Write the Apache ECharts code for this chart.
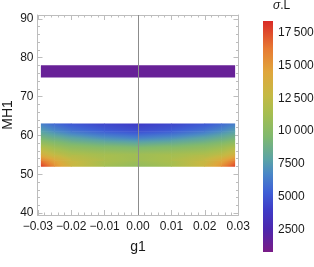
<!DOCTYPE html>
<html>
<head>
<meta charset="utf-8">
<script src="https://cdn.jsdelivr.net/npm/echarts@6/dist/echarts.min.js"></script>
<style>html,body{margin:0;padding:0;background:#fff;}#c{width:314px;height:267px;}</style>
</head>
<body>
<div id="c"></div>
<script>
// ---- data ----
const heatX = [-0.029, -0.025, -0.02, -0.01, 0, 0.01, 0.02, 0.025, 0.029];
const heatY = [52, 53.5, 55, 57, 59, 61, 63];
const heatRow52   = [18000, 15500, 13200, 11200, 10400, 11200, 13200, 15400, 17900];
const heatRow53_5 = [16200, 14500, 12800, 11600, 11000, 11600, 12800, 14300, 16000];
const heatRow55   = [13800, 12600, 11800, 11300, 11100, 11300, 11800, 12400, 13600];
const heatRow57   = [11800, 10900, 10200, 9800, 9500, 9800, 10200, 10800, 11600];
const heatRow59   = [9500, 8900, 8300, 7400, 6900, 7400, 8300, 8800, 9400];
const heatRow61   = [7800, 7000, 6200, 5300, 4700, 5300, 6200, 7000, 7700];
const heatRow63   = [6500, 5600, 5000, 4300, 4000, 4300, 5000, 5600, 6400];
const heatValues = [heatRow52, heatRow53_5, heatRow55, heatRow57, heatRow59, heatRow61, heatRow63];

const bandX = [-0.029, 0, 0.029];
const bandY = [75, 78];
const bandRow75 = [1500, 1500, 1500];
const bandRow78 = [1500, 1500, 1500];
const bandValues = [bandRow75, bandRow78];

const xTickLabels = [-0.03, -0.02, -0.01, 0, 0.01, 0.02, 0.03];
const yTickLabels = [40, 50, 60, 70, 80, 90];
const cbarTickLabels = [2500, 5000, 7500, 10000, 12500, 15000, 17500];
const cbarMin = 760, cbarMax = 18400;

// ---- colour scheme ----
const cmapStops = [
  [0.00, '#7a1c87'], [0.10, '#4c27ae'], [0.18, '#3f3bc6'], [0.26, '#3f60d6'],
  [0.34, '#4a88c6'], [0.40, '#5ba3a6'], [0.50, '#80b96e'], [0.60, '#a6be50'],
  [0.68, '#c5b944'], [0.78, '#e0a63c'], [0.88, '#e77a33'], [1.00, '#d92a27']
];
function hex2rgb(h){return [parseInt(h.substr(1,2),16),parseInt(h.substr(3,2),16),parseInt(h.substr(5,2),16)];}
function cmap(v){
  let t = (v - cbarMin) / (cbarMax - cbarMin);
  t = Math.max(0, Math.min(1, t));
  for (let i = 1; i < cmapStops.length; i++) {
    if (t <= cmapStops[i][0]) {
      const a = cmapStops[i-1], b = cmapStops[i];
      const f = (t - a[0]) / (b[0] - a[0]);
      const ca = hex2rgb(a[1]), cb = hex2rgb(b[1]);
      return 'rgb(' + ca.map((x, k) => Math.round(x + (cb[k] - x) * f)).join(',') + ')';
    }
  }
  return cmapStops[cmapStops.length-1][1];
}

// cells: [x0, x1, y0, y1, vTL, vTR, vBL, vBR]
function buildCells(xs, ys, vals){
  const out = [];
  for (let j = 0; j < ys.length - 1; j++) {
    for (let i = 0; i < xs.length - 1; i++) {
      out.push([xs[i], xs[i+1], ys[j], ys[j+1],
        vals[j+1][i], vals[j+1][i+1], vals[j][i], vals[j][i+1]]);
    }
  }
  return out;
}

function renderCell(params, api){
  const x0 = api.value(0), x1 = api.value(1), y0 = api.value(2), y1 = api.value(3);
  const vTL = api.value(4), vTR = api.value(5), vBL = api.value(6), vBR = api.value(7);
  const pTL = api.coord([x0, y1]), pBR = api.coord([x1, y0]);
  const W = pBR[0] - pTL[0], H = pBR[1] - pTL[1];
  const b = ((vTR - vTL) + (vBR - vBL)) / 2;
  const c = ((vBL - vTL) + (vBR - vTR)) / 2;
  const m = (vTL + vTR + vBL + vBR) / 4;
  const gx = b / W, gy = c / H, g2 = gx*gx + gy*gy;
  let fill;
  if (g2 < 1e-9) { fill = cmap(m); }
  else {
    const half = Math.abs(b)/2 + Math.abs(c)/2;
    const lo = m - half, hi = m + half;
    const cx = pTL[0] + W/2, cy = pTL[1] + H/2;
    const t0 = (lo - m) / g2, t1 = (hi - m) / g2;
    const stops = [];
    const n = 6;
    for (let k = 0; k <= n; k++) stops.push({offset: k/n, color: cmap(lo + (hi - lo) * k / n)});
    fill = {type: 'linear', x: cx + gx*t0, y: cy + gy*t0, x2: cx + gx*t1, y2: cy + gy*t1, global: true, colorStops: stops};
  }
  return {type: 'rect', shape: {x: pTL[0] - 0.3, y: pTL[1] - 0.3, width: W + 0.6, height: H + 0.6}, style: {fill: fill}};
}

function renderBar(params, api){
  const pTL = api.coord([api.value(0), api.value(3)]);
  const pBR = api.coord([api.value(1), api.value(2)]);
  return {type: 'rect', shape: {x: pTL[0], y: pTL[1], width: pBR[0]-pTL[0], height: pBR[1]-pTL[1]},
    style: {fill: {type: 'linear', x: 0, y: 1, x2: 0, y2: 0,
      colorStops: cmapStops.map(s => ({offset: s[0], color: s[1]}))}}};
}

const minorX = [], minorY = [];
for (let k = -15; k <= 15; k++) minorX.push(k * 0.002);
for (let k = 20; k <= 45; k++) minorY.push(k * 2);

const frameColor = '#bdbdbd';
const labelColor = '#1a1a1a';
const font = 'Liberation Sans, Arial, sans-serif';
const fmtX = v => { const r = Math.round(v * 100) / 100; return (r < 0 ? '\u2212' : '') + Math.abs(r).toFixed(2); };
const fmtC = v => v >= 10000 ? Math.floor(v/1000) + '\u2009' + String(v % 1000).padStart(3, '0') : String(v);

function xAx(pos, major, labels){
  return {type: 'value', gridIndex: 0, position: pos, min: -0.0301, max: 0.0301,
    axisLine: {show: major, onZero: false, lineStyle: {color: frameColor, width: 1}},
    axisTick: {show: true, inside: true, length: major ? 5 : 2.5, customValues: major ? xTickLabels : minorX, lineStyle: {color: frameColor}},
    axisLabel: {show: labels, customValues: xTickLabels, formatter: fmtX, color: labelColor, fontSize: 12, fontFamily: font, margin: 6},
    splitLine: {show: false},
    name: labels ? 'g1' : '', nameLocation: 'middle', nameGap: 25, nameMoveOverlap: false,
    nameTextStyle: {fontSize: 14, color: labelColor, fontFamily: font}};
}
function yAx(pos, major, labels){
  return {type: 'value', gridIndex: 0, position: pos, min: 39.5, max: 91,
    axisLine: {show: major, onZero: false, lineStyle: {color: frameColor, width: 1}},
    axisTick: {show: true, inside: true, length: major ? 5 : 2.5, customValues: major ? yTickLabels : minorY, lineStyle: {color: frameColor}},
    axisLabel: {show: labels, customValues: yTickLabels, color: labelColor, fontSize: 12, fontFamily: font, margin: 4},
    splitLine: {show: false},
    name: labels ? 'MH1' : '', nameLocation: 'middle', nameGap: 22, nameMoveOverlap: false,
    nameTextStyle: {fontSize: 14, color: labelColor, fontFamily: font}};
}

const chart = echarts.init(document.getElementById('c'), null, {renderer: 'canvas'});
chart.setOption({
  animation: false,
  backgroundColor: '#ffffff',
  grid: [
    {left: 37.5, right: 75.5, top: 15, bottom: 52, containLabel: false, outerBoundsMode: 'none'},
    {left: 263, width: 10, top: 21, bottom: 15, containLabel: false, outerBoundsMode: 'none'}
  ],
  xAxis: [xAx('bottom', true, true), xAx('bottom', false, false), xAx('top', true, false), xAx('top', false, false),
    {type: 'value', gridIndex: 1, min: 0, max: 1, show: false}],
  yAxis: [yAx('left', true, true), yAx('left', false, false), yAx('right', true, false), yAx('right', false, false),
    {type: 'value', gridIndex: 1, position: 'right', min: cbarMin, max: cbarMax,
      axisLine: {show: false, onZero: false}, axisTick: {show: false}, splitLine: {show: false},
      axisLabel: {customValues: cbarTickLabels, formatter: fmtC, color: labelColor, fontSize: 12, fontFamily: font, margin: 5},
      name: '{i|σ}.L', nameLocation: 'end', nameGap: 9, nameMoveOverlap: false,
      nameTextStyle: {fontSize: 12, color: labelColor, fontFamily: font, align: 'left', padding: [0, 0, 0, 0],
        rich: {i: {fontStyle: 'italic', fontSize: 12, fontFamily: font, color: labelColor}}}}],
  series: [
    {type: 'custom', name: 'band', xAxisIndex: 0, yAxisIndex: 0, renderItem: renderCell,
      encode: {x: [0, 1], y: [2, 3]}, data: buildCells(bandX, bandY, bandValues), silent: true, z: 2},
    {type: 'custom', name: 'sigmaL', xAxisIndex: 0, yAxisIndex: 0, renderItem: renderCell,
      encode: {x: [0, 1], y: [2, 3]}, data: buildCells(heatX, heatY, heatValues), silent: true, z: 2,
      markLine: {silent: true, symbol: 'none', label: {show: false}, lineStyle: {color: '#8c8c8c', width: 1, type: 'solid'},
        data: [{xAxis: 0}], z: 5}},
    {type: 'custom', name: 'colorbar', xAxisIndex: 4, yAxisIndex: 4, renderItem: renderBar,
      encode: {x: [0, 1], y: [2, 3]}, data: [[0, 1, cbarMin, cbarMax]], silent: true}
  ]
});
</script>
</body>
</html>
